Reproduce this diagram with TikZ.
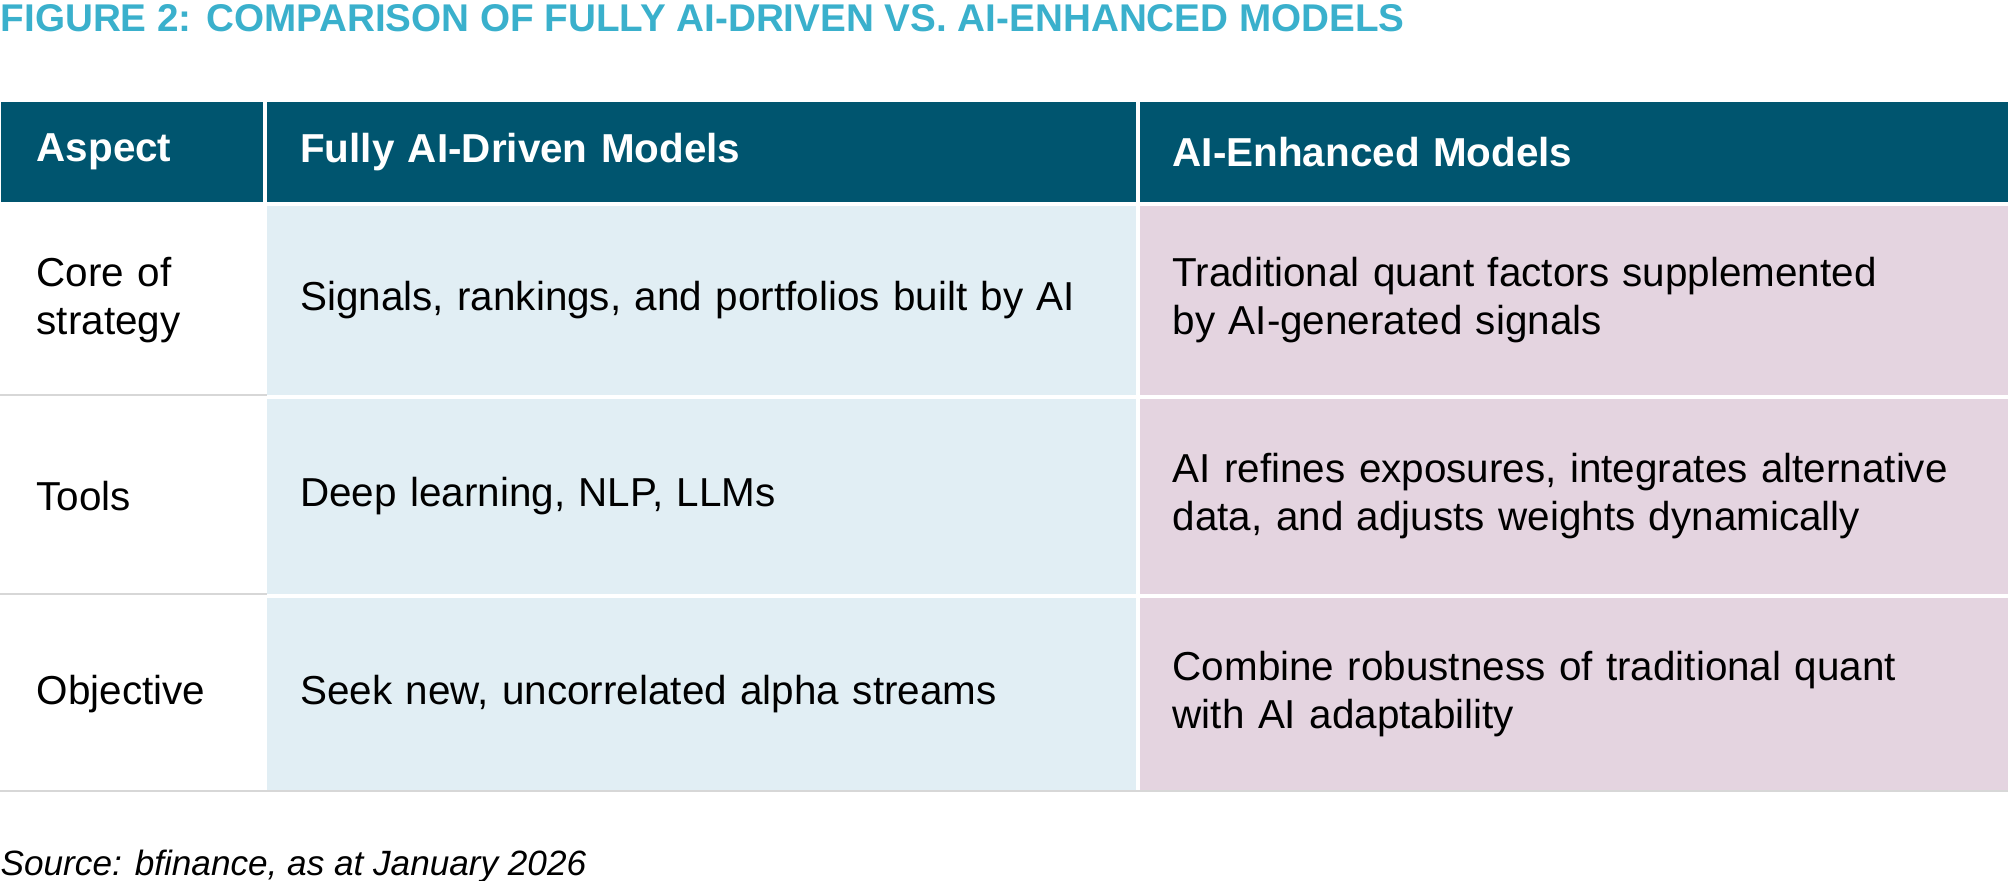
\documentclass[tikz,border=0pt]{standalone}
\usepackage{fontspec}
\setmainfont{Liberation Sans}
\usetikzlibrary{positioning}
\definecolor{titlecyan}{RGB}{58,176,204}
\definecolor{headteal}{RGB}{0,85,111}
\definecolor{fullblue}{RGB}{225,238,244}
\definecolor{enhpink}{RGB}{228,212,224}
\definecolor{rulegrey}{RGB}{215,215,215}
\begin{document}
\begin{tikzpicture}[
    cell/.style={anchor=north west, inner xsep=0.33cm, inner ysep=0pt, align=left,
                 font=\fontsize{11.5}{13.8}\selectfont},
    head/.style={cell, fill=headteal, text=white, minimum height=1.0cm,
                 font=\fontsize{11.5}{13.8}\selectfont\bfseries},
    aspect/.style={cell, text width=2.625cm-0.69cm, inner xsep=0.36cm},
    full/.style={cell, fill=fullblue, text width=8.685cm-0.66cm},
    enh/.style={cell, fill=enhpink, text width=8.69cm-0.66cm},
    rule/.style={rulegrey, line width=0.6pt}
]
\useasboundingbox (0,0) rectangle (20.08,-8.81);

% Title
\node[anchor=base west, inner sep=0pt, text=titlecyan,
      font=\fontsize{11}{13}\selectfont\bfseries] (title) at (0,-0.32)
      {FIGURE 2: COMPARISON OF FULLY AI-DRIVEN VS. AI-ENHANCED MODELS};

% Header row
\node[head, text width=2.625cm-0.72cm, inner xsep=0.36cm] (hAspect) at (0,-1.01) {Aspect};
\node[head, text width=8.685cm-0.66cm] (hFull) at (2.665,-1.01) {Fully AI-Driven Models};
\node[head, text width=8.69cm-0.66cm] (hEnh) at (11.39,-1.01) {AI-Enhanced Models};

% Row 1
\node[aspect, minimum height=1.89cm] (aCore) at (0,-2.05) {Core of\\strategy};
\node[full, minimum height=1.89cm] (fCore) at (2.665,-2.05) {Signals, rankings, and portfolios built by AI};
\node[enh, minimum height=1.89cm] (eCore) at (11.39,-2.05) {Traditional quant factors supplemented\\by AI-generated signals};

% Row 2
\node[aspect, minimum height=1.95cm] (aTools) at (0,-3.98) {Tools};
\node[full, minimum height=1.95cm] (fTools) at (2.665,-3.98) {Deep learning, NLP, LLMs};
\node[enh, minimum height=1.95cm] (eTools) at (11.39,-3.98) {AI refines exposures, integrates alternative\\data, and adjusts weights dynamically};

% Row 3
\node[aspect, minimum height=1.93cm] (aObj) at (0,-5.97) {Objective};
\node[full, minimum height=1.93cm] (fObj) at (2.665,-5.97) {Seek new, uncorrelated alpha streams};
\node[enh, minimum height=1.93cm] (eObj) at (11.39,-5.97) {Combine robustness of traditional quant\\with AI adaptability};

% Rules
\draw[rule] (aCore.south west) -- (aCore.south east);
\draw[rule] (aTools.south west) -- (aTools.south east);
\draw[rule] (aObj.south west) -- (eObj.south east);

% Source
\node[anchor=base west, inner sep=0pt, font=\fontsize{10}{12}\selectfont\itshape] (source)
      at (0,-8.75) {Source: bfinance, as at January 2026};
\end{tikzpicture}
\end{document}
